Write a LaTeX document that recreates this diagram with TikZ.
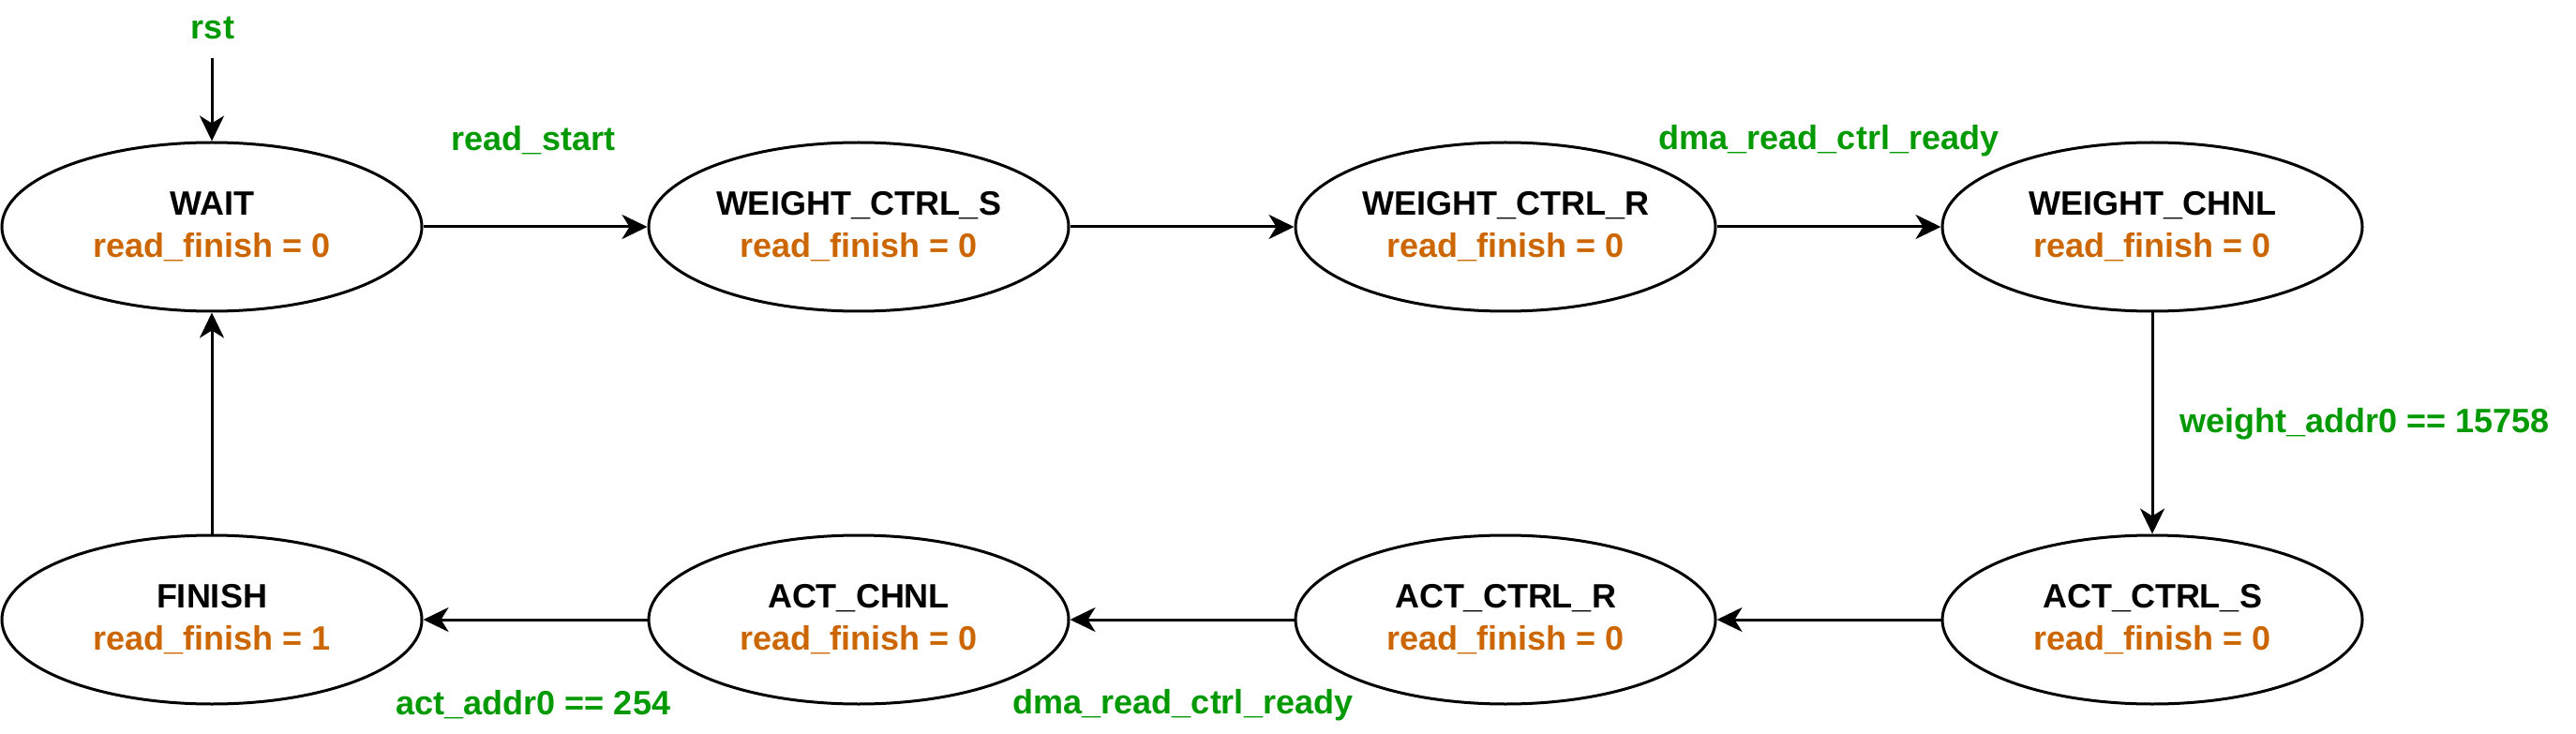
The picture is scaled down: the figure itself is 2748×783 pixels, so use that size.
\documentclass[tikz,border=0pt]{standalone}
\usepackage{fontspec}
\setmainfont{Liberation Sans}
\usetikzlibrary{shapes.geometric,arrows.meta}
\definecolor{lblgreen}{HTML}{009900}
\definecolor{outorange}{HTML}{CC6600}
\tikzset{
  state/.style={ellipse, draw=black, line width=3pt, minimum width=448pt, minimum height=180pt,
    inner sep=0pt, align=center, font=\fontsize{36}{45}\selectfont\bfseries},
  trans/.style={line width=3pt, -{Stealth[length=27pt, width=26pt, inset=8pt]}},
  cond/.style={text=lblgreen, font=\fontsize{36}{45}\selectfont\bfseries, inner sep=0pt}
}
\newcommand{\st}[2]{#1\\\textcolor{outorange}{read\_finish = #2}}
\begin{document}
\begin{tikzpicture}[x=1pt,y=-1pt]
\useasboundingbox (0,0) rectangle (2748,783);
\node[state] (wait) at (226,242) {\st{WAIT}{0}};
\node[state] (wcs) at (916,242) {\st{WEIGHT\_CTRL\_S}{0}};
\node[state] (wcr) at (1606,242) {\st{WEIGHT\_CTRL\_R}{0}};
\node[state] (wch) at (2296,242) {\st{WEIGHT\_CHNL}{0}};
\node[state] (fin) at (226,661) {\st{FINISH}{1}};
\node[state] (ach) at (916,661) {\st{ACT\_CHNL}{0}};
\node[state] (acr) at (1606,661) {\st{ACT\_CTRL\_R}{0}};
\node[state] (acs) at (2296,661) {\st{ACT\_CTRL\_S}{0}};
\coordinate (rstsrc) at (226,62);
\node[cond] (rst) at (227,30) {rst};
\node[cond] (l1) at (569,150) {read\_start};
\node[cond] (l2) at (1951,150) {dma\_read\_ctrl\_ready};
\node[cond, anchor=west] (l3) at (2325,452) {weight\_addr0 == 15758};
\node[cond] (l4) at (569,752) {act\_addr0 == 254};
\node[cond] (l5) at (1262,752) {dma\_read\_ctrl\_ready};
\draw[trans] (rstsrc) -- (wait.north);
\draw[trans] (wait) -- (wcs);
\draw[trans] (wcs) -- (wcr);
\draw[trans] (wcr) -- (wch);
\draw[trans] (wch.south) -- (acs.north);
\draw[trans] (acs) -- (acr);
\draw[trans] (acr) -- (ach);
\draw[trans] (ach) -- (fin);
\draw[trans] (fin.north) -- (wait.south);
\end{tikzpicture}
\end{document}
